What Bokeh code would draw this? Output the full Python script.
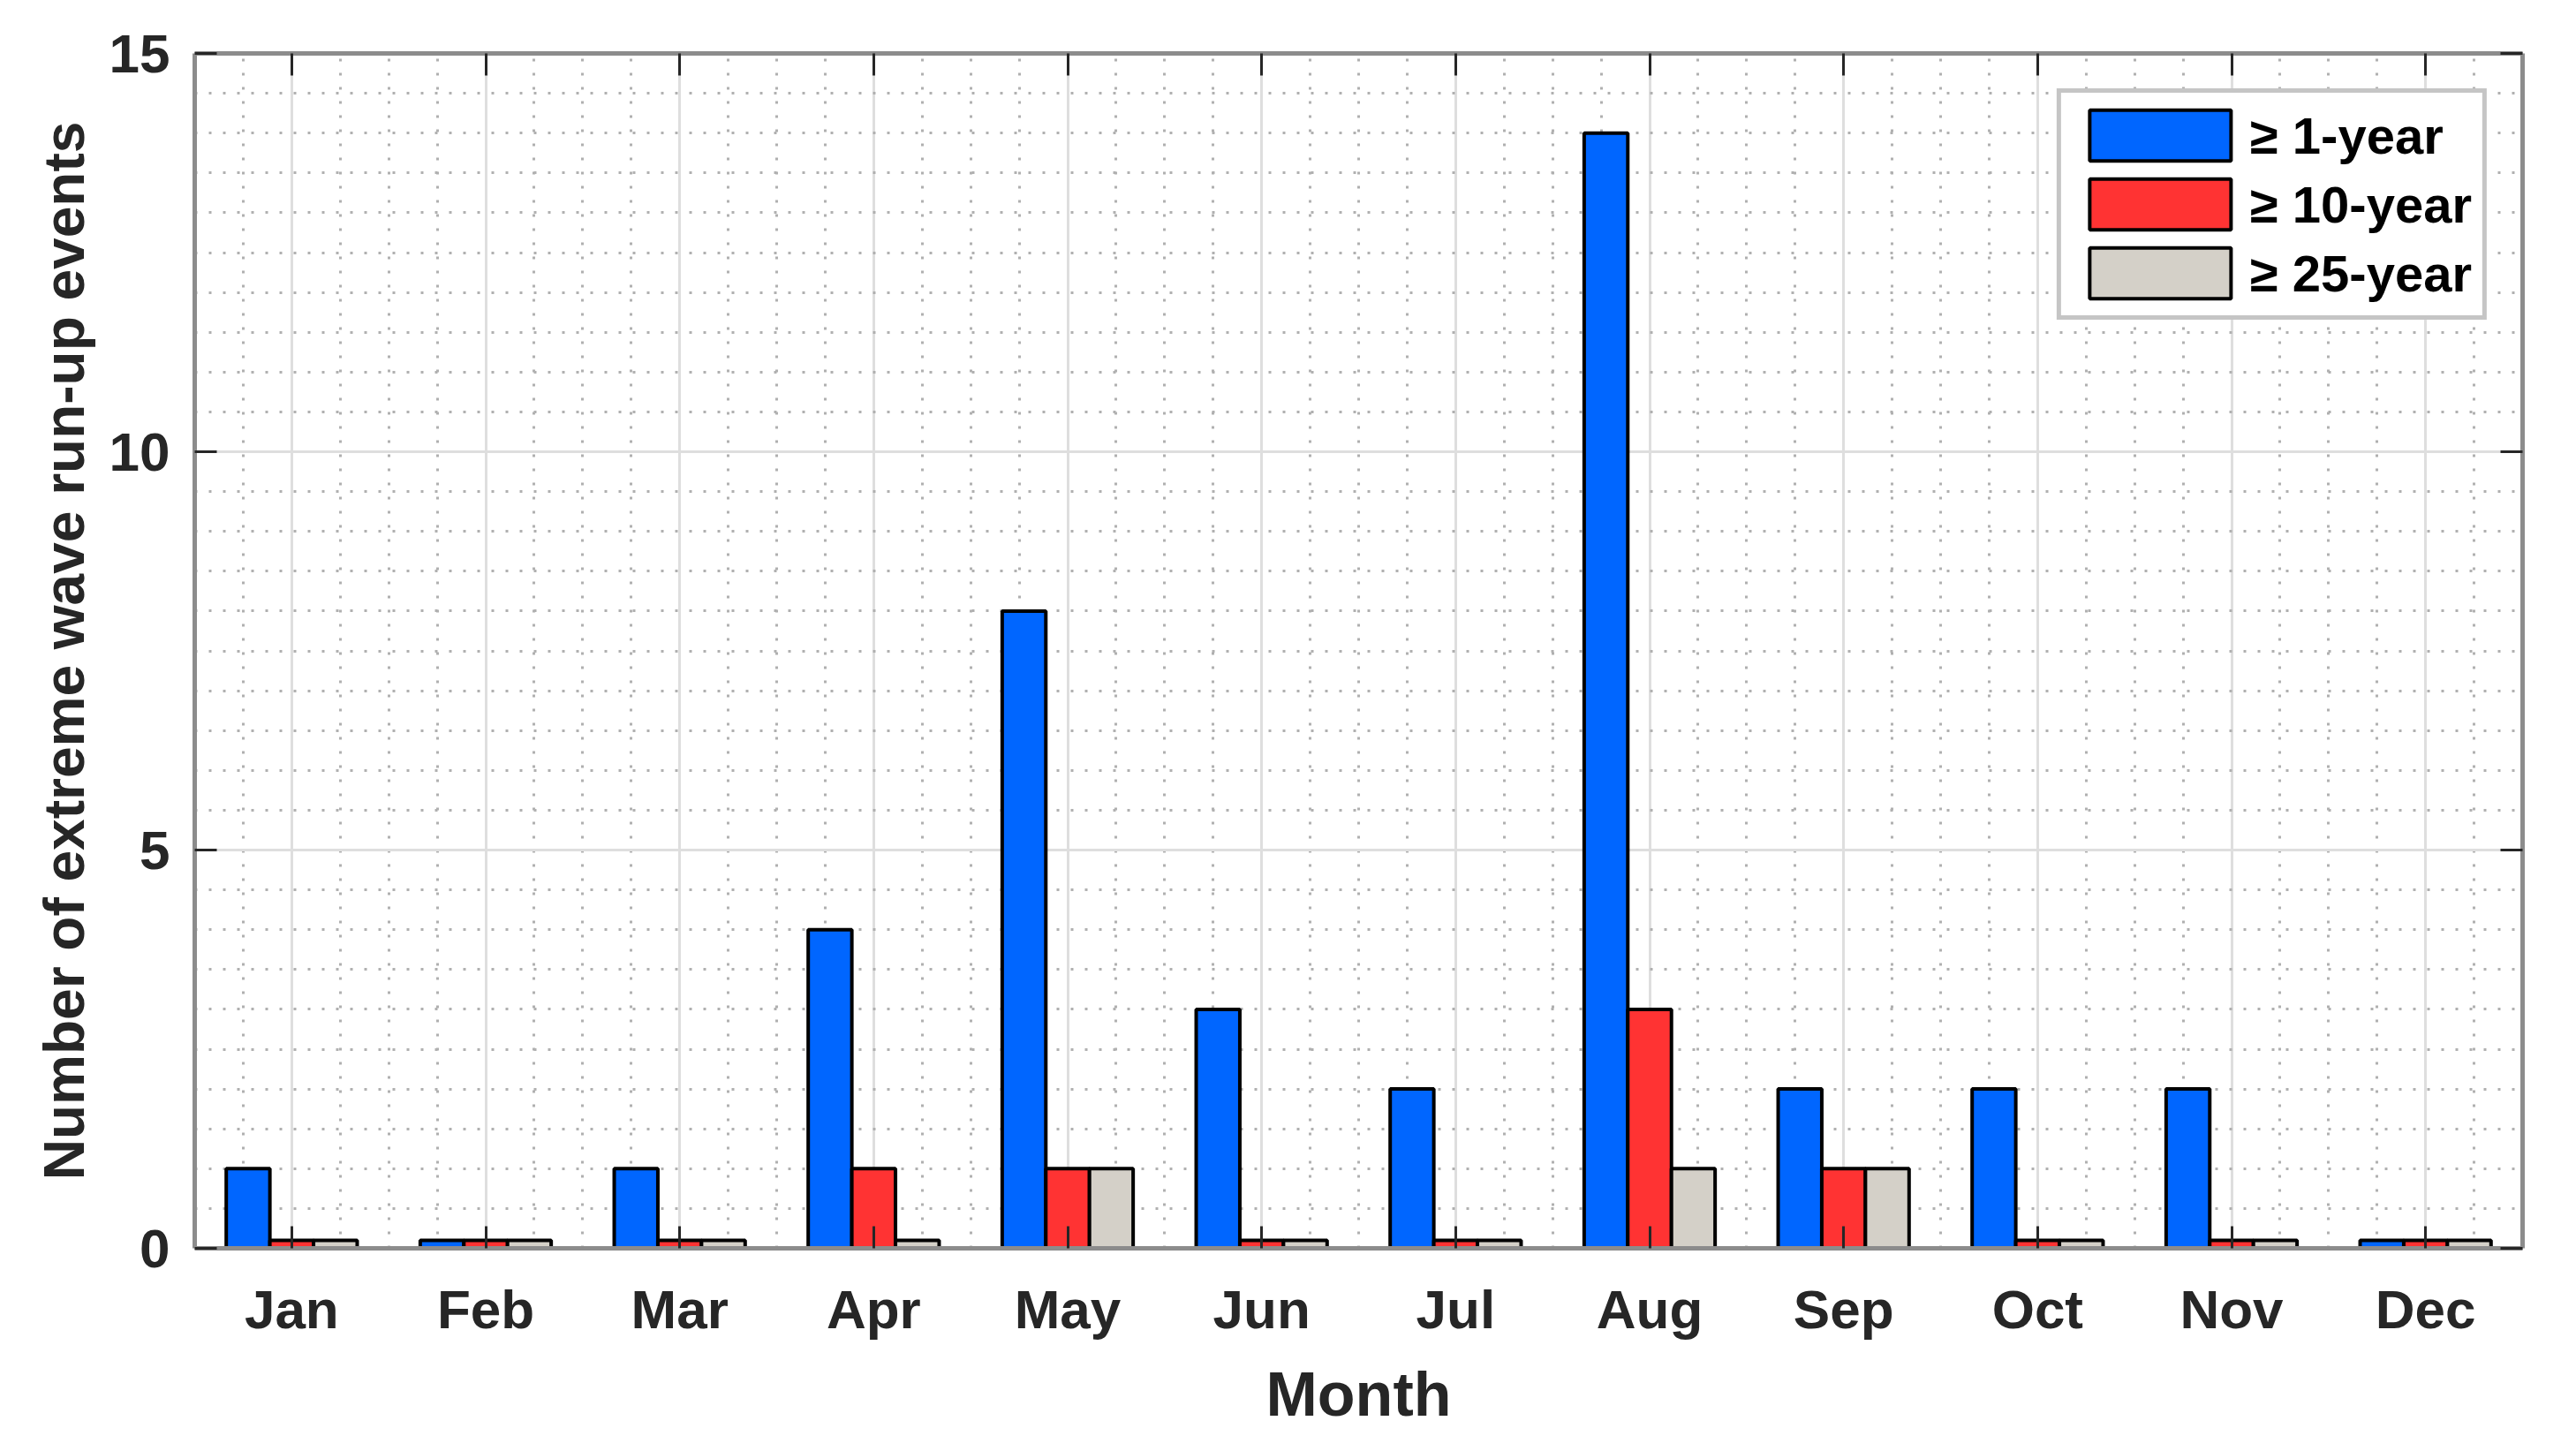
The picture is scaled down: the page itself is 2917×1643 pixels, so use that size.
from bokeh.plotting import figure
from bokeh.models import ColumnDataSource, FixedTicker, LinearAxis, Range1d, Legend, LegendItem
from bokeh.transform import dodge
from bokeh.embed import file_html
from bokeh.resources import INLINE

months = ["Jan", "Feb", "Mar", "Apr", "May", "Jun", "Jul", "Aug", "Sep", "Oct", "Nov", "Dec"]
month_pos = [1, 2, 3, 4, 5, 6, 7, 8, 9, 10, 11, 12]
events_1yr = [1, 0.1, 1, 4, 8, 3, 2, 14, 2, 2, 2, 0.1]
events_10yr = [0.1, 0.1, 0.1, 1, 1, 0.1, 0.1, 3, 1, 0.1, 0.1, 0.1]
events_25yr = [0.1, 0.1, 0.1, 0.1, 1, 0.1, 0.1, 1, 1, 0.1, 0.1, 0.1]
y_ticks = [0, 5, 10, 15]
series_labels = ["\u2265 1-year", "\u2265 10-year", "\u2265 25-year"]
series_colors = ["#0066ff", "#ff3333", "#d4d0c8"]

FONT = "Liberation Sans"
TXT = "#262626"
AX = "#8c8c8c"

src = ColumnDataSource(dict(x=month_pos, a=events_1yr, b=events_10yr, c=events_25yr))

p = figure(width=2900, height=1627, output_backend="svg", toolbar_location=None,
           x_range=Range1d(0.5, 12.5), y_range=Range1d(0, 15),
           min_border_left=220, min_border_right=44, min_border_top=60, min_border_bottom=214)
p.outline_line_color = None
p.background_fill_color = "white"
p.border_fill_color = "white"

bw = 0.225
renderers = []
for col, off, color in zip(["a", "b", "c"], [-bw, 0.0, bw], series_colors):
    r = p.vbar(x=dodge("x", off, range=p.x_range), top=col, width=bw, bottom=0, source=src,
               fill_color=color, line_color="black", line_width=4)
    renderers.append(r)

minor_x = [k / 4 for k in range(3, 51) if k % 4 != 0]
minor_y = [k / 2 for k in range(1, 30) if k % 10 != 0]

# grids
p.xgrid.ticker = FixedTicker(ticks=month_pos, minor_ticks=minor_x)
p.ygrid.ticker = FixedTicker(ticks=y_ticks, minor_ticks=minor_y)
for g in (p.xgrid, p.ygrid):
    g.grid_line_color = "#dedede"
    g.grid_line_width = 3
    g.minor_grid_line_color = "#b0b0b0"
    g.minor_grid_line_width = 3
    g.minor_grid_line_dash = "3 13"

# axes
xa = p.xaxis[0]
xa.ticker = FixedTicker(ticks=month_pos)
xa.major_label_overrides = {m: lab for m, lab in zip(month_pos, months)}
ya = p.yaxis[0]
ya.ticker = FixedTicker(ticks=y_ticks)

xa.axis_label = "Month"
ya.axis_label = "Number of extreme wave run-up events"

top = LinearAxis(ticker=FixedTicker(ticks=month_pos))
right = LinearAxis(ticker=FixedTicker(ticks=y_ticks))
p.add_layout(top, "above")
p.add_layout(right, "right")

for ax in (xa, ya, top, right):
    ax.axis_line_color = AX
    ax.axis_line_width = 5
    ax.major_tick_in = 25
    ax.major_tick_out = 0
    ax.major_tick_line_color = TXT
    ax.major_tick_line_width = 3
    ax.minor_tick_line_color = None
    ax.major_label_text_font = FONT
    ax.major_label_text_font_style = "bold"
    ax.major_label_text_color = TXT
    ax.major_label_text_font_size = "62px"
    ax.axis_label_text_font = FONT
    ax.axis_label_text_font_style = "bold"
    ax.axis_label_text_color = TXT

for ax in (top, right):
    ax.major_label_text_font_size = "1px"
    ax.major_label_text_color = None
    ax.major_label_standoff = 0

xa.major_label_standoff = 34
xa.axis_label_text_font_size = "70px"
xa.axis_label_standoff = 20
ya.major_label_standoff = 28
ya.axis_label_text_font_size = "64px"
ya.axis_label_standoff = 12

legend = Legend(items=[LegendItem(label=lab, renderers=[r]) for lab, r in zip(series_labels, renderers)],
                location="top_right")
legend.margin = 40
legend.padding = 12
legend.spacing = 6
legend.glyph_width = 200
legend.glyph_height = 72
legend.label_standoff = 2
legend.label_text_font = FONT
legend.label_text_font_style = "bold"
legend.label_text_font_size = "58px"
legend.label_text_color = "black"
legend.border_line_color = AX
legend.border_line_width = 5
legend.background_fill_color = "white"
legend.background_fill_alpha = 1.0
p.add_layout(legend, "center")

open("out.html", "w").write(file_html(p, INLINE))
